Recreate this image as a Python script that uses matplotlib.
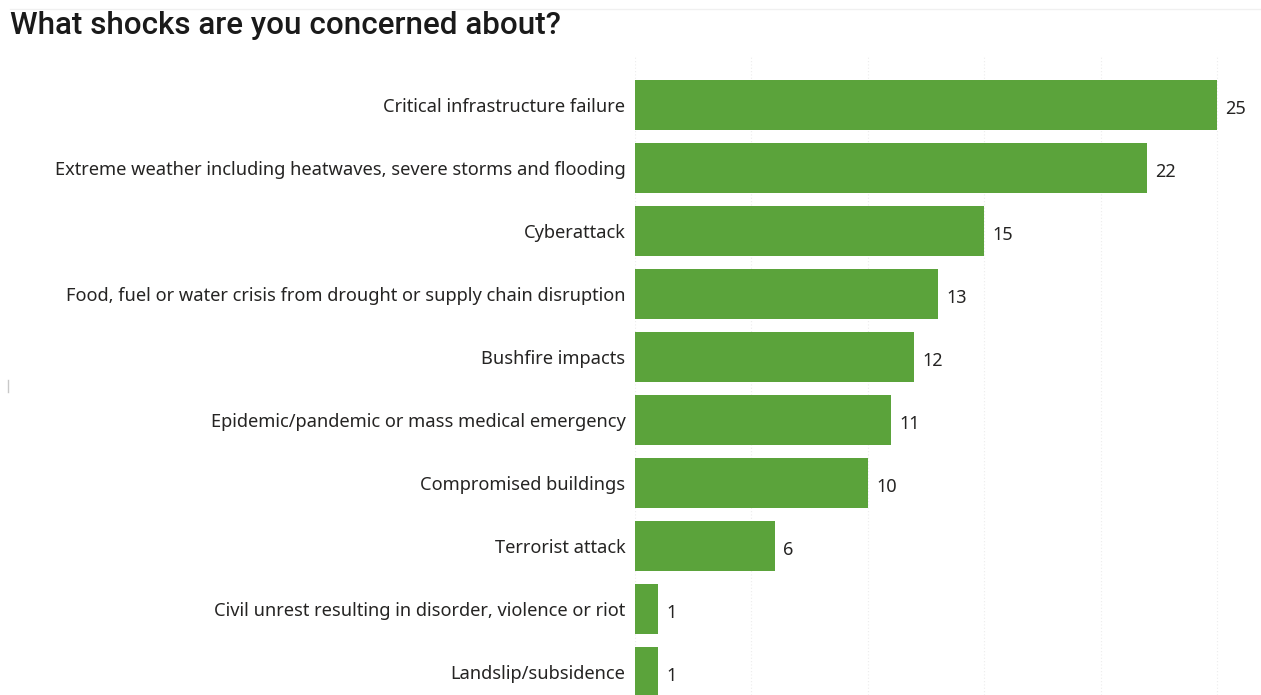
import matplotlib
matplotlib.use("Agg")
import matplotlib.pyplot as plt

categories = [
    "Critical infrastructure failure",
    "Extreme weather including heatwaves, severe storms and flooding",
    "Cyberattack",
    "Food, fuel or water crisis from drought or supply chain disruption",
    "Bushfire impacts",
    "Epidemic/pandemic or mass medical emergency",
    "Compromised buildings",
    "Terrorist attack",
    "Civil unrest resulting in disorder, violence or riot",
    "Landslip/subsidence",
]
counts = [25, 22, 15, 13, 12, 11, 10, 6, 1, 1]
grid_ticks = [0, 5, 10, 15, 20, 25]

bar_color = "#5ba33b"
text_color = "#252423"

plt.rcParams["font.family"] = ["Noto Sans", "DejaVu Sans"]

fig = plt.figure(figsize=(12.61, 6.95), dpi=100)
ax = fig.add_axes([635 / 1261, 0.0, (1252 - 635) / 1261, 1 - 55 / 695])

positions = list(range(len(categories)))
ax.barh(positions, counts, height=0.79, color=bar_color, zorder=2)

for pos, val in zip(positions, counts):
    ax.annotate(str(val), xy=(val, pos), xytext=(6, -3), textcoords="offset points",
                ha="left", va="center", fontsize=13, color=text_color)

ax.set_xlim(0, 26.5)
ax.set_ylim(9.365, -0.794)
ax.set_yticks(positions)
ax.set_yticklabels(categories, fontsize=13.15, color=text_color)
ax.tick_params(axis="y", length=0, pad=7)
ax.set_xticks(grid_ticks)
ax.tick_params(axis="x", length=0, labelbottom=False)
ax.grid(axis="x", color="#ececec", linestyle=(0, (1, 2)), linewidth=0.8, zorder=0)
for spine in ax.spines.values():
    spine.set_visible(False)

fig.text(10 / 1261, 1 - 26 / 695, "What shocks are you concerned about?",
         fontsize=22.6, color="#1a1a1a", ha="left", va="center",
         family=["Roboto", "DejaVu Sans"], fontweight="medium")

# faint top border line and small marker seen in the reference
fig.add_artist(plt.Line2D([10 / 1261, 1.0], [1 - 9 / 695, 1 - 9 / 695],
                          color="#f0f0f0", linewidth=1))
fig.add_artist(plt.Line2D([8 / 1261, 8 / 1261], [1 - 380 / 695, 1 - 392 / 695],
                          color="#c8c8c8", linewidth=1))

fig.savefig("out.png", dpi=100, facecolor="white")
